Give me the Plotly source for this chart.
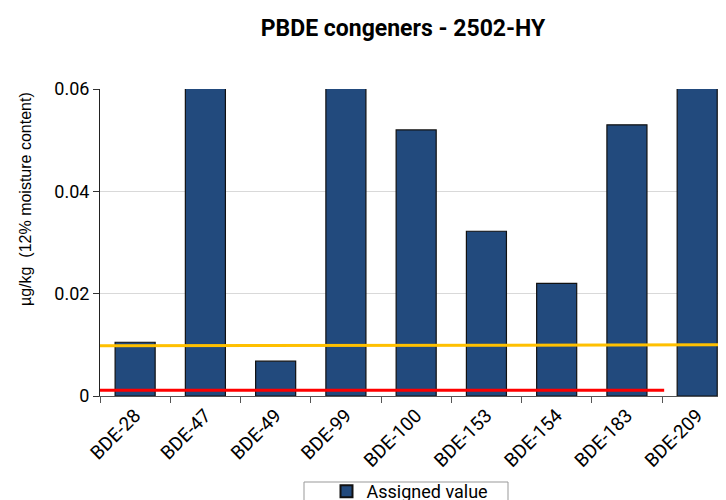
import plotly.graph_objects as go

categories = ["BDE-28", "BDE-47", "BDE-49", "BDE-99", "BDE-100", "BDE-153", "BDE-154", "BDE-183", "BDE-209"]
assigned_values = [0.0105, 0.075, 0.0068, 0.085, 0.052, 0.0322, 0.022, 0.053, 0.11]
yellow_y = [0.0098, 0.0100]
red_level = 0.0011
y_ticks = [0, 0.02, 0.04, 0.06]
y_tick_labels = ["0", "0.02", "0.04", "0.06"]
y_title = "µg/kg  (12% moisture content)"

FONT = "Roboto"
# the page adds an 8px body margin, so the figure is 8px smaller and shifted
W, H = 718, 492
L, T, B = 92, 81, 104
PW, PH = W - L, H - T - B


def px_x(p):
    return (p - 8 - L) / PW


def px_y(p):
    return (H - B - (p - 8)) / PH


fig = go.Figure()
fig.add_trace(go.Bar(
    x=categories, y=assigned_values, name="Assigned value",
    marker=dict(color="#224a7d", line=dict(color="#111111", width=1.2)),
    width=0.57,
))
fig.add_trace(go.Scatter(
    x=[-0.5, 8.6], y=yellow_y, mode="lines",
    line=dict(color="#FFC000", width=3), showlegend=False, xaxis="x2",
))
fig.add_trace(go.Scatter(
    x=[-0.5, 7.53], y=[red_level, red_level], mode="lines",
    line=dict(color="#FF0000", width=3), showlegend=False, xaxis="x2",
))

fig.add_annotation(
    text=y_title, textangle=-90, xref="paper", yref="paper",
    x=px_x(25), y=px_y(199), xanchor="center", yanchor="middle",
    showarrow=False, font=dict(family="Liberation Sans", size=16, color="black"),
)
# legend frame
fig.add_shape(type="rect", xref="paper", yref="paper",
              x0=px_x(304), x1=px_x(508), y0=px_y(482), y1=px_y(520),
              line=dict(color="#999999", width=1), fillcolor="rgba(0,0,0,0)")

fig.update_layout(
    width=W, height=H,
    margin=dict(l=L, r=0, t=T, b=B, autoexpand=False),
    paper_bgcolor="white", plot_bgcolor="white",
    title=dict(text="<b>PBDE congeners - 2502-HY</b>", x=395 / W, xanchor="center", y=1 - 20 / H, yanchor="middle",
               font=dict(family=FONT, size=23, color="black")),
    font=dict(family=FONT, size=18, color="black"),
    xaxis=dict(
        type="category", range=[-0.5, 8.41], tickson="boundaries",
        ticks="outside", ticklen=6, tickcolor="#555555",
        showline=True, linecolor="#555555", linewidth=1,
        tickangle=-45, tickfont=dict(size=19, family=FONT),
        showgrid=False, automargin=False,
    ),
    xaxis2=dict(range=[-0.5, 8.41], overlaying="x", visible=False),
    yaxis=dict(
        range=[0, 0.06], tickvals=y_ticks, ticktext=y_tick_labels,
        ticks="outside", ticklen=6, tickcolor="#333333",
        showline=True, linecolor="#222222", linewidth=1,
        showgrid=True, gridcolor="#d9d9d9", gridwidth=1,
        zeroline=False, tickfont=dict(size=18, family=FONT), automargin=False,
    ),
    legend=dict(orientation="h", x=px_x(410), xanchor="center", y=px_y(473), yanchor="top",
                bgcolor="rgba(0,0,0,0)", borderwidth=0, font=dict(size=18, family=FONT),
                itemsizing="constant"),
)

fig.write_html("out.html")
